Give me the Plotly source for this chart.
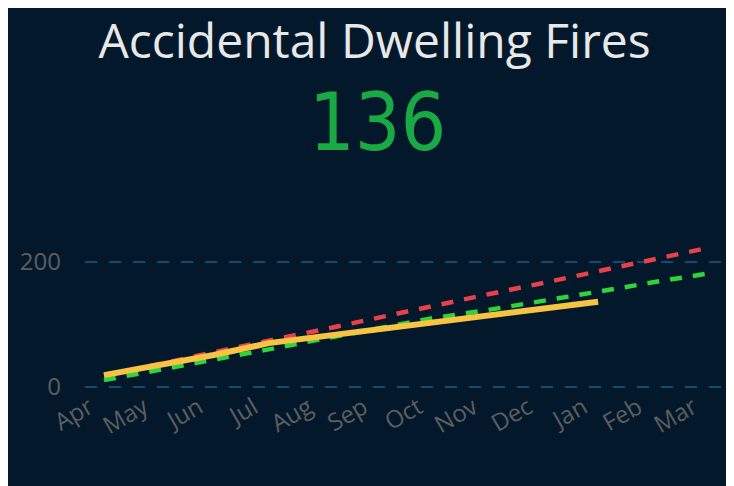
import plotly.graph_objects as go

months = ["Apr", "May", "Jun", "Jul", "Aug", "Sep", "Oct", "Nov", "Dec", "Jan", "Feb", "Mar"]
upper_target = [18, 37, 55, 74, 92, 111, 129, 148, 166, 185, 203, 222]
lower_target = [11, 27, 44, 60, 77, 94, 110, 123, 137, 152, 167, 181]
actual = [19, 35, 51, 70, 81, 91, 103, 114, 125, 136]

bg = "#03192b"
tick_grey = "#5e5e5e"

fig = go.Figure()
fig.add_trace(go.Scatter(x=months, y=upper_target, mode="lines",
                         line=dict(color="#e8414b", width=4.5, dash="12px,11px")))
fig.add_trace(go.Scatter(x=months, y=lower_target, mode="lines",
                         line=dict(color="#2fd23f", width=4.5, dash="12px,11px")))
fig.add_trace(go.Scatter(x=months[:len(actual)], y=actual, mode="lines",
                         line=dict(color="#f6c343", width=6)))

# big headline number = latest actual value
fig.add_annotation(text=str(actual[-1]), xref="paper", yref="paper", x=0.4528, y=1.2636,
                   showarrow=False, xanchor="center", yanchor="middle",
                   font=dict(family="DejaVu Sans Condensed, Roboto", size=80, color="#1aaa45"))

fig.update_layout(
    width=726, height=478,
    margin=dict(l=77, r=3, t=172, b=86),
    paper_bgcolor=bg, plot_bgcolor=bg,
    showlegend=False,
    title=dict(text="Accidental Dwelling Fires", x=0.5048, y=1 - 33 / 478,
               xanchor="center", yanchor="middle",
               font=dict(family="Open Sans", size=48, color="#e8e8e8")),
    font=dict(family="Open Sans", color=tick_grey),
)
fig.update_xaxes(type="category", range=[-0.346, 11.42], showgrid=False, zeroline=False,
                 showline=False, tickangle=-30, ticklabelshift=-15, ticklabelstandoff=-12,
                 tickfont=dict(size=24, color=tick_grey))
fig.update_yaxes(range=[-20.7, 330.2], dtick=200, showgrid=True, gridcolor="#124a76",
                 gridwidth=2, griddash="12px,12px", zeroline=False, showline=False,
                 ticklabelstandoff=23, tickfont=dict(size=24, color=tick_grey))

fig.write_html("out.html")
